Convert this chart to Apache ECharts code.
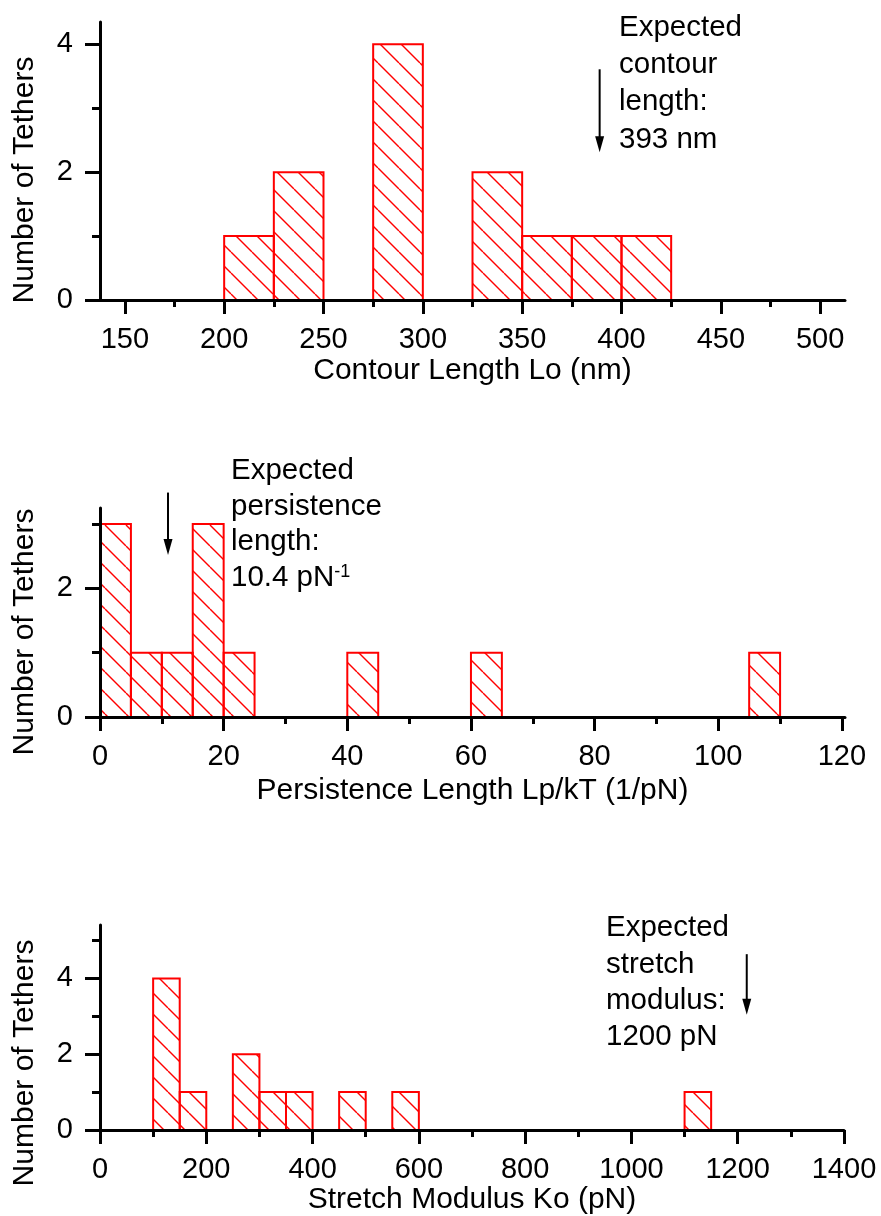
<!DOCTYPE html>
<html>
<head>
<meta charset="utf-8">
<script src="https://cdn.jsdelivr.net/npm/echarts@6/dist/echarts.min.js"></script>
<style>
html,body{margin:0;padding:0;background:#fff;}
#chart{width:881px;height:1216px;}
</style>
</head>
<body>
<div id="chart"></div>
<script>
// ---------- DATA ----------
// Panel 1: Contour length histogram (bin width 25 nm)
const contourBinStart = [200, 225, 275, 325, 350, 375, 400];
const contourCounts   = [1, 2, 4, 2, 1, 1, 1];
const contourBinWidth = 25;
const contourXTicks   = [150, 200, 250, 300, 350, 400, 450, 500];
const contourXMinor   = [175, 225, 275, 325, 375, 425, 475];
const contourYTicks   = [0, 2, 4];
const contourYMinor   = [1, 3];

// Panel 2: Persistence length histogram (bin width 5 1/pN)
const persistBinStart = [0, 5, 10, 15, 20, 40, 60, 105];
const persistCounts   = [3, 1, 1, 3, 1, 1, 1, 1];
const persistBinWidth = 5;
const persistXTicks   = [0, 20, 40, 60, 80, 100, 120];
const persistXMinor   = [10, 30, 50, 70, 90, 110];
const persistYTicks   = [0, 2];
const persistYMinor   = [1, 3];

// Panel 3: Stretch modulus histogram (bin width 50 pN)
const stretchBinStart = [100, 150, 250, 300, 350, 450, 550, 1100];
const stretchCounts   = [4, 1, 2, 1, 1, 1, 1, 1];
const stretchBinWidth = 50;
const stretchXTicks   = [0, 200, 400, 600, 800, 1000, 1200, 1400];
const stretchXMinor   = [100, 300, 500, 700, 900, 1100, 1300];
const stretchYTicks   = [0, 2, 4];
const stretchYMinor   = [1, 3, 5];

// Axis titles
const xTitles = ['Contour Length Lo (nm)', 'Persistence Length Lp/kT (1/pN)', 'Stretch Modulus Ko (pN)'];
const yTitle = 'Number of Tethers';

// Annotation arrows (data coords: x, top y, bottom y)
const arrowX      = [389, 11, 1217];
const arrowTopY   = [3.61, 3.49, 4.64];
const arrowBottomY= [2.31, 2.52, 3.04];

// Annotation texts
const noteTexts = [
  'Expected\ncontour\nlength:\n393 nm',
  'Expected\npersistence\nlength:\n10.4 pN{sup|-1}',
  'Expected\nstretch\nmodulus:\n1200 pN'
];

// ---------- RENDER ----------
const FONT = 'Liberation Sans, Arial, Helvetica, sans-serif';
const FS = 29;
const FS_TITLE = 30;
const FS_NOTE = 29.5;

// hatch pattern
const pc = document.createElement('canvas');
pc.width = 21; pc.height = 21;
const pctx = pc.getContext('2d');
pctx.strokeStyle = '#ff0000';
pctx.lineWidth = 1.4;
for (const x0 of [-21, 0, 21]) {
  pctx.beginPath();
  pctx.moveTo(x0, 0);
  pctx.lineTo(x0 + 21, 21);
  pctx.stroke();
}
const hatch = { image: pc, repeat: 'repeat' };

function binData(starts, counts, w) {
  return starts.map((s, i) => [s, s + w, counts[i]]);
}

function renderBar(params, api) {
  const p0 = api.coord([api.value(0), api.value(2)]);
  const p1 = api.coord([api.value(1), 0]);
  return {
    type: 'rect',
    shape: { x: p0[0], y: p0[1], width: p1[0] - p0[0], height: p1[1] - p0[1] },
    style: { fill: hatch, stroke: '#ff0000', lineWidth: 2 }
  };
}

function renderArrow(params, api) {
  const top = api.coord([api.value(0), api.value(1)]);
  const bot = api.coord([api.value(0), api.value(2)]);
  const headLen = 16, headW = 4.5;
  return {
    type: 'group',
    children: [
      { type: 'line', shape: { x1: top[0], y1: top[1], x2: bot[0], y2: bot[1] - headLen + 2 },
        style: { stroke: '#000', lineWidth: 2 } },
      { type: 'polygon', shape: { points: [[bot[0] - headW, bot[1] - headLen], [bot[0] + headW, bot[1] - headLen], [bot[0], bot[1]]] },
        style: { fill: '#000' } }
    ]
  };
}

const grids = [
  { left: 100, right: 36, top: 22, height: 278 },
  { left: 100, right: 36, top: 508, height: 209 },
  { left: 100, right: 37, top: 925, height: 209 }
];
const xRanges = [[137.5, 512.5], [0, 120.5], [0, 1400]];
const yRanges = [[0, 4.35], [0, 3.25], [0, 5.41]];
const xMajor = [contourXTicks, persistXTicks, stretchXTicks];
const xMinor = [contourXMinor, persistXMinor, stretchXMinor];
const yMajor = [contourYTicks, persistYTicks, stretchYTicks];
const yMinor = [contourYMinor, persistYMinor, stretchYMinor];
const nameGaps = [56, 59, 55];
const bins = [
  binData(contourBinStart, contourCounts, contourBinWidth),
  binData(persistBinStart, persistCounts, persistBinWidth),
  binData(stretchBinStart, stretchCounts, stretchBinWidth)
];

const textStyleBase = { color: '#000', fontFamily: FONT, fontSize: FS };
const plainNum = v => String(v);

const xAxis = [], yAxis = [], series = [];
for (let g = 0; g < 3; g++) {
  xAxis.push({
    type: 'value', gridIndex: g, min: xRanges[g][0], max: xRanges[g][1], position: 'bottom', z: 10,
    axisLine: { show: true, onZero: false, lineStyle: { color: '#000', width: 3 } },
    axisTick: { show: true, customValues: xMajor[g], length: 14, lineStyle: { color: '#000', width: 3 } },
    axisLabel: Object.assign({ customValues: xMajor[g], margin: 25, formatter: plainNum }, textStyleBase),
    splitLine: { show: false },
    name: xTitles[g], nameLocation: 'middle', nameGap: nameGaps[g],
    nameTextStyle: { color: '#000', fontFamily: FONT, fontSize: FS_TITLE }
  });
  xAxis.push({
    type: 'value', gridIndex: g, min: xRanges[g][0], max: xRanges[g][1], position: 'bottom', z: 10,
    axisLine: { show: false, onZero: false },
    axisTick: { show: true, customValues: xMinor[g], length: 7, lineStyle: { color: '#000', width: 3 } },
    axisLabel: { show: false }, splitLine: { show: false }
  });
  yAxis.push({
    type: 'value', gridIndex: g, min: yRanges[g][0], max: yRanges[g][1], position: 'left', z: 10,
    axisLine: { show: true, onZero: false, lineStyle: { color: '#000', width: 3 } },
    axisTick: { show: true, customValues: yMajor[g], length: 15, lineStyle: { color: '#000', width: 3 } },
    axisLabel: Object.assign({ customValues: yMajor[g], margin: 27, formatter: plainNum }, textStyleBase),
    splitLine: { show: false }
  });
  yAxis.push({
    type: 'value', gridIndex: g, min: yRanges[g][0], max: yRanges[g][1], position: 'left', z: 10,
    axisLine: { show: false, onZero: false },
    axisTick: { show: true, customValues: yMinor[g], length: 8, lineStyle: { color: '#000', width: 3 } },
    axisLabel: { show: false }, splitLine: { show: false }
  });
  series.push({
    type: 'custom', xAxisIndex: 2 * g, yAxisIndex: 2 * g, renderItem: renderBar,
    data: bins[g], encode: { x: [0, 1], y: 2 }, clip: false, z: 2, silent: true
  });
  series.push({
    type: 'custom', xAxisIndex: 2 * g, yAxisIndex: 2 * g, renderItem: renderArrow,
    data: [[arrowX[g], arrowTopY[g], arrowBottomY[g]]], encode: { x: 0, y: [1, 2] }, clip: false, z: 3, silent: true
  });
}

const yTitleCenters = [180, 632, 1063];
const notePos = [[619, 9, 37.3], [231, 453, 35.7], [606, 910, 36.3]];
const graphic = [];
for (let g = 0; g < 3; g++) {
  graphic.push({
    type: 'text', x: 25, y: yTitleCenters[g], rotation: Math.PI / 2,
    style: { text: yTitle, font: FS_TITLE + 'px ' + FONT, fill: '#000',
      align: 'center', verticalAlign: 'middle', textAlign: 'center', textVerticalAlign: 'middle' }
  });
  graphic.push({
    type: 'text', x: notePos[g][0], y: notePos[g][1],
    style: {
      text: noteTexts[g], font: FS_NOTE + 'px ' + FONT, fill: '#000', lineHeight: notePos[g][2],
      align: 'left', verticalAlign: 'top', textAlign: 'left', textVerticalAlign: 'top',
      rich: { sup: { fontSize: 18, fontFamily: FONT, fill: '#000', verticalAlign: 'top', lineHeight: 18, padding: [3, 0, 0, 0] } }
    }
  });
}

const chart = echarts.init(document.getElementById('chart'), null, { renderer: 'canvas' });
chart.setOption({
  animation: false,
  backgroundColor: '#fff',
  grid: grids,
  xAxis: xAxis,
  yAxis: yAxis,
  series: series,
  graphic: graphic
});
</script>
</body>
</html>
